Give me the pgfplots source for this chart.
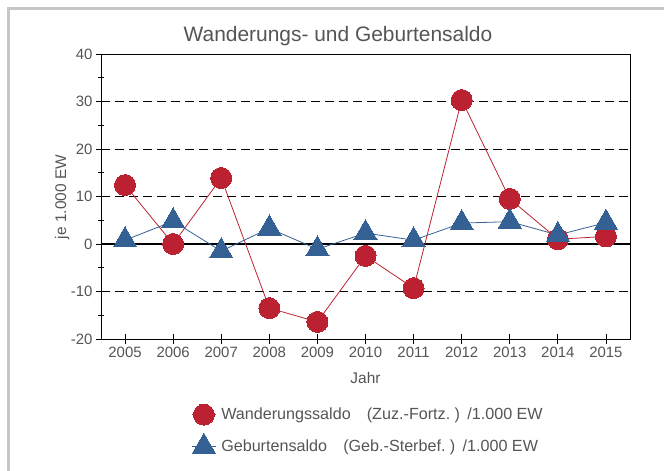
\documentclass[border=0pt]{standalone}
\usepackage{fontspec}
\setmainfont{Liberation Sans}
\usepackage{pgfplots}
\pgfplotsset{compat=1.18}
\definecolor{wred}{RGB}{187,33,48}
\definecolor{gblue}{RGB}{53,96,148}
\definecolor{txt}{RGB}{85,85,85}
\begin{document}
\begin{tikzpicture}[x=1bp,y=1bp]
\path[use as bounding box] (0,0) rectangle (664,471);
\draw[line width=3bp, black!22] (8.5,-20) rectangle (690,462);
\begin{axis}[
  at={(101bp,132bp)}, anchor=south west,
  scale only axis, width=529bp, height=285bp,
  xmin=2004.5, xmax=2015.5, ymin=-20, ymax=40,
  xtick=\empty,
  extra x ticks={2005,...,2015},
  extra x tick style={major tick length=10bp, tick align=center},
  ytick={-20,-10,...,40},
  minor ytick={-15,-5,...,35},
  x tick label style={/pgf/number format/1000 sep={}},
  /pgf/number format/assume math mode=true,
  tick label style={font=\fontsize{15}{17}\selectfont, text=txt},
  label style={font=\fontsize{15.5}{18}\selectfont, text=txt},
  xtick pos=bottom, ytick pos=left,
  tick align=outside,
  major tick length=5bp, minor tick length=6bp,
  every minor tick/.append style={xshift=3bp},
  tick style={black, line width=0.8pt},
  axis line style={black, line width=0.9pt},
  extra y ticks={-10,10,20,30}, extra y tick labels={},
  extra y tick style={grid=major, major grid style={black, dash pattern=on 9bp off 5bp, line width=0.7pt}, major tick length=0pt},
  title={Wanderungs- und Geburtensaldo},
  title style={at={(axis description cs:0.448,1.042)}, anchor=center, font=\fontsize{21}{24}\selectfont, text=txt},
  xlabel={Jahr},
  xlabel style={at={(axis description cs:0.5,-0.137)}, anchor=center},
  ylabel={je 1.000 EW},
  ylabel style={at={(axis description cs:-0.0737,0.498)}, anchor=center, rotate=0},
  legend style={at={(axis description cs:0.165,-0.221)}, anchor=north west, draw=none, fill=none,
    font=\fontsize{16.2}{18}\selectfont, text=txt, row sep=8bp, cells={anchor=west}},
  legend image code/.code={\draw[mark repeat=2,mark phase=2,#1] plot coordinates {(0bp,0bp)(12bp,0bp)(24bp,0bp)};},
  clip=false,
]
\draw[black, line width=1.1pt] (axis cs:2004.5,0) -- (axis cs:2015.5,0);
\addplot[wred, line width=0.8pt, mark=*, mark size=10.5bp, mark options={solid, fill=wred, draw=wred, line width=0pt}]
 coordinates {(2005,12.4)(2006,0.0)(2007,13.9)(2008,-13.5)(2009,-16.4)(2010,-2.5)(2011,-9.3)(2012,30.3)(2013,9.5)(2014,1.0)(2015,1.6)};
\addlegendentry{\hspace{3bp}Wanderungssaldo\hspace{1.0em}(Zuz.-Fortz.\ )\hspace{0.45em}/1.000 EW}
\addplot[gblue, line width=0.8pt, mark=triangle*, mark size=13.5bp, mark options={solid, fill=gblue, draw=gblue, line width=0pt}]
 coordinates {(2005,0.8)(2006,4.8)(2007,-1.5)(2008,3.3)(2009,-1.1)(2010,2.3)(2011,0.8)(2012,4.4)(2013,4.7)(2014,1.9)(2015,4.5)};
\addlegendentry{\hspace{3bp}Geburtensaldo\hspace{1.0em}(Geb.-Sterbef.\ )\hspace{0.45em}/1.000 EW}
\end{axis}
\end{tikzpicture}
\end{document}
